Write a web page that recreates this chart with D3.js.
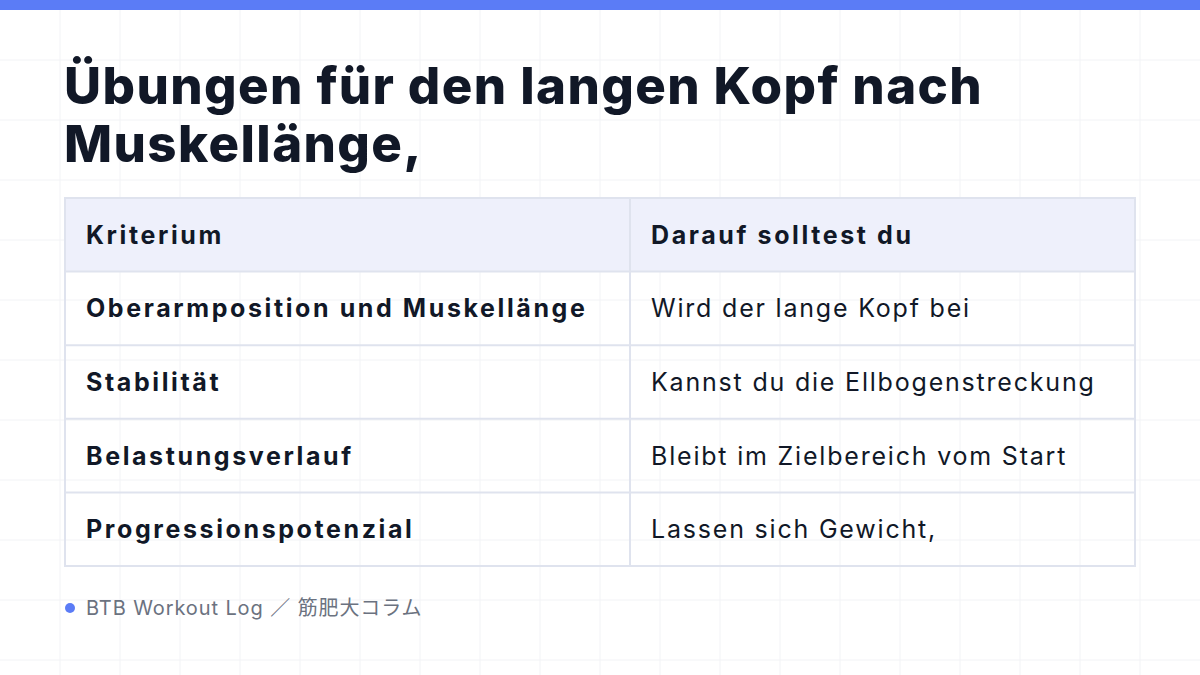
<!DOCTYPE html>
<html><head><meta charset="utf-8">
<script src="https://cdn.jsdelivr.net/npm/d3@7"></script>
<style>body{margin:0;background:#fff;}svg{display:block;}</style>
</head><body>
<script>
const titleLines = ['Übungen für den langen Kopf nach', 'Muskellänge,'];
const headers = ['Kriterium', 'Darauf solltest du'];
const criteria = ['Oberarmposition und Muskellänge', 'Stabilität', 'Belastungsverlauf', 'Progressionspotenzial'];
const answers = ['Wird der lange Kopf bei', 'Kannst du die Ellbogenstreckung', 'Bleibt im Zielbereich vom Start', 'Lassen sich Gewicht,'];
const footer = 'BTB Workout Log ／ 筋肥大コラム';

const W = 1200, H = 675;
const font = 'Inter, "Noto Sans CJK JP", sans-serif';
const svg = d3.select('body').append('svg').attr('width', W).attr('height', H);

svg.append('rect').attr('width', W).attr('height', H).attr('fill', '#fff');
// faint grid
const grid = svg.append('g').attr('stroke', '#f2f3f6').attr('stroke-width', 1);
d3.range(60, W, 60).forEach(x => grid.append('line').attr('x1', x).attr('x2', x).attr('y1', 0).attr('y2', H));
d3.range(60, H, 60).forEach(y => grid.append('line').attr('y1', y).attr('y2', y).attr('x1', 0).attr('x2', W));
svg.append('rect').attr('width', W).attr('height', 10).attr('fill', '#5b7cf6');

svg.selectAll('.title').data(titleLines).enter().append('text')
    .attr('x', 64).attr('y', (d, i) => 104 + i * 58)
    .attr('font-family', font).attr('font-size', 51).attr('font-weight', 800)
    .attr('fill', '#111827').attr('letter-spacing', 1.4).text(d => d);

const rows = [headers].concat(criteria.map((c, i) => [c, answers[i]]));
const y = d3.scaleBand().domain(d3.range(rows.length)).range([198, 566]);
const x0 = 65, xm = 630, x1 = 1135;

const tbl = svg.append('g');
tbl.append('rect').attr('x', x0).attr('y', y(0)).attr('width', x1 - x0).attr('height', y.bandwidth()).attr('fill', '#eef0fb');
const g = tbl.selectAll('.row').data(rows).enter().append('g');
g.append('text').attr('x', x0 + 21).attr('y', (d, i) => y(i) + y.bandwidth() / 2 + 9)
    .attr('font-family', font).attr('font-size', 25).attr('font-weight', 700).attr('letter-spacing', 2.6)
    .attr('fill', '#111827').text(d => d[0]);
g.append('text').attr('x', xm + 21).attr('y', (d, i) => y(i) + y.bandwidth() / 2 + 9)
    .attr('font-family', font).attr('font-size', 25).attr('font-weight', (d, i) => i === 0 ? 700 : 400)
    .attr('letter-spacing', (d, i) => i === 0 ? 2.6 : 1.8)
    .attr('fill', '#111827').text(d => d[1]);
const bc = '#dfe3ee';
d3.range(1, rows.length).forEach(i => tbl.append('line').attr('x1', x0).attr('x2', x1).attr('y1', y(i)).attr('y2', y(i)).attr('stroke', bc).attr('stroke-width', 2));
tbl.append('line').attr('x1', xm).attr('x2', xm).attr('y1', 198).attr('y2', 566).attr('stroke', bc).attr('stroke-width', 2);
tbl.append('rect').attr('x', x0).attr('y', 198).attr('width', x1 - x0).attr('height', 368).attr('fill', 'none').attr('stroke', bc).attr('stroke-width', 2);

svg.append('circle').attr('cx', 70).attr('cy', 608).attr('r', 5).attr('fill', '#5b7cf6');
svg.append('text').attr('x', 86).attr('y', 615).attr('font-family', font).attr('font-size', 20)
    .attr('letter-spacing', 0.9).attr('fill', '#6b7280').text(footer);
</script>
</body></html>
